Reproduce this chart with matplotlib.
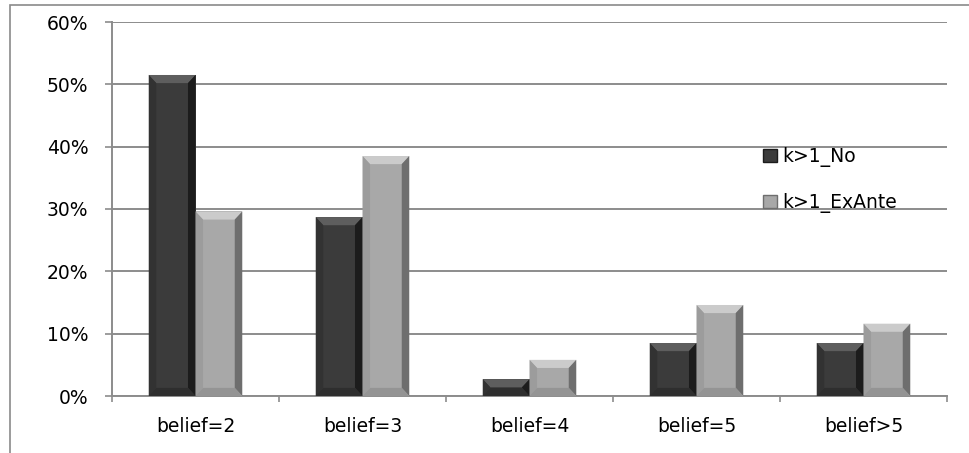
import matplotlib.pyplot as plt
from matplotlib.patches import Polygon, Rectangle
from matplotlib.ticker import PercentFormatter, FixedLocator

categories = ["belief=2", "belief=3", "belief=4", "belief=5", "belief>5"]
k_no = [0.515, 0.287, 0.027, 0.085, 0.085]
k_exante = [0.296, 0.385, 0.058, 0.146, 0.116]
series_names = ["k>1_No", "k>1_ExAnte"]

# base, top facet, left facet, right facet, bottom facet
shades = {
    "k>1_No": ["#3b3b3b", "#5e5e5e", "#323232", "#1c1c1c", "#2e2e2e"],
    "k>1_ExAnte": ["#a8a8a8", "#cbcbcb", "#9c9c9c", "#6e6e6e", "#949494"],
}

plt.rcParams['font.family'] = ['DejaVu Sans']

fig = plt.figure(figsize=(9.7, 4.53), dpi=100)
# outer chart border
fig.add_artist(Rectangle((10 / 970, -0.1), 1.2, 1 - 5 / 453 + 0.1,
                         transform=fig.transFigure, fill=False,
                         edgecolor="#8a8a8a", linewidth=1.2))
ax = fig.add_axes([112 / 970, 1 - 396 / 453, (947 - 112) / 970, (396 - 22) / 453])

width = 0.28
bev_x = 0.045
bev_y = 0.013


def bevel_bar(x0, h, cols):
    x1 = x0 + width
    bx = min(bev_x, width / 2)
    by = min(bev_y, h / 2)
    ax.add_patch(Rectangle((x0, 0), width, h, facecolor=cols[0], edgecolor="none", zorder=3))
    facets = [
        ([(x0, h), (x1, h), (x1 - bx, h - by), (x0 + bx, h - by)], cols[1]),
        ([(x0, 0), (x0, h), (x0 + bx, h - by), (x0 + bx, by)], cols[2]),
        ([(x1, 0), (x1, h), (x1 - bx, h - by), (x1 - bx, by)], cols[3]),
        ([(x0, 0), (x1, 0), (x1 - bx, by), (x0 + bx, by)], cols[4]),
    ]
    for pts, c in facets:
        ax.add_patch(Polygon(pts, closed=True, facecolor=c, edgecolor="none", zorder=3))


for i, (a, b) in enumerate(zip(k_no, k_exante)):
    bevel_bar(i - width, a, shades["k>1_No"])
    bevel_bar(i, b, shades["k>1_ExAnte"])

ax.set_xlim(-0.5, len(categories) - 0.5)
ax.set_ylim(0, 0.6)
ax.set_yticks([i / 10 for i in range(7)])
ax.yaxis.set_major_formatter(PercentFormatter(1.0, decimals=0))
ax.set_xticks(range(len(categories)))
ax.set_xticklabels(categories)
ax.xaxis.set_minor_locator(FixedLocator([i - 0.5 for i in range(len(categories) + 1)]))

ax.grid(axis="y", color="#8c8c8c", linewidth=1.4, zorder=0)
ax.set_axisbelow(True)
for s in ["top", "right"]:
    ax.spines[s].set_visible(False)
for s in ["left", "bottom"]:
    ax.spines[s].set_color("#8c8c8c")
    ax.spines[s].set_linewidth(1.4)

ax.tick_params(axis="y", length=5, width=1.2, color="#8c8c8c", pad=12, labelsize=13.5)
ax.tick_params(axis="x", which="major", length=0, pad=15, labelsize=13.5)
ax.tick_params(axis="x", which="minor", length=4.5, width=1.2, color="#8c8c8c")

handles = [Rectangle((0, 0), 1, 1, facecolor=shades[n][0], edgecolor=shades[n][3]) for n in series_names]
leg = ax.legend(handles, series_names, loc="upper left", bbox_to_anchor=(0.76, 0.71),
                frameon=False, fontsize=13.5, handlelength=0.7, handleheight=0.7,
                handletextpad=0.3, labelspacing=1.35)

fig.savefig("out.png", dpi=100)
